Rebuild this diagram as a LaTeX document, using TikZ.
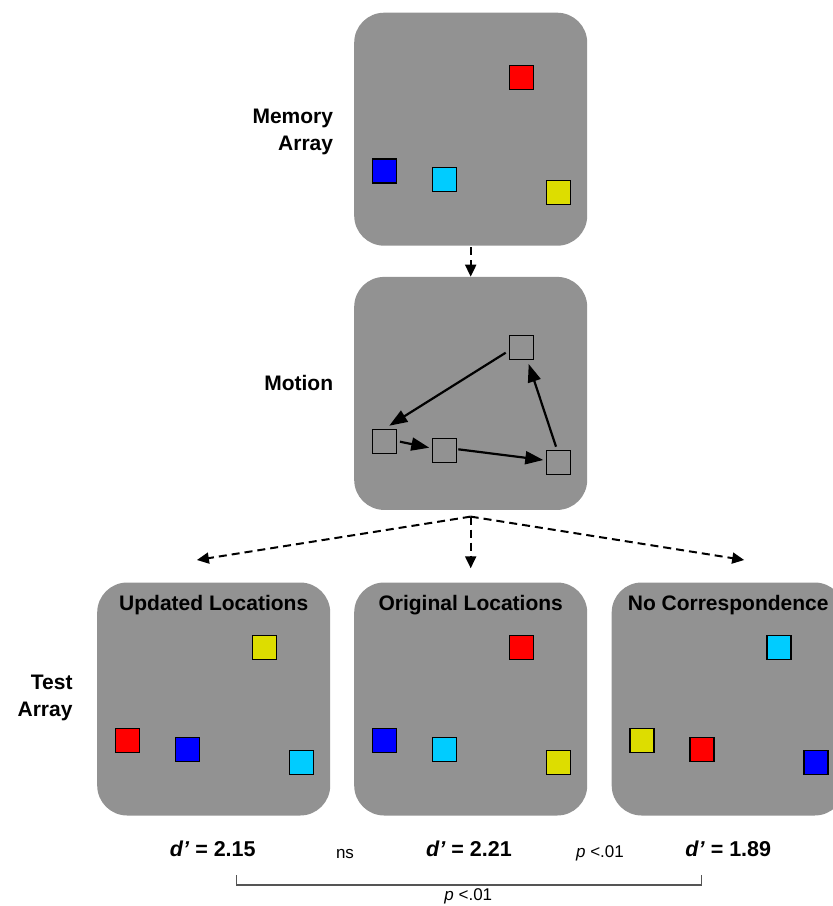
\documentclass[tikz,border=0pt]{standalone}
\usepackage{fontspec}
\setmainfont{Liberation Sans}
\usetikzlibrary{arrows.meta,calc}

\definecolor{panelgray}{RGB}{146,146,146}
\definecolor{sqred}{RGB}{255,0,0}
\definecolor{sqblue}{RGB}{0,0,255}
\definecolor{sqcyan}{RGB}{0,204,255}
\definecolor{sqyellow}{RGB}{221,221,0}
\definecolor{brackgray}{RGB}{85,85,85}

% four coloured squares at the standard display positions of a panel
\newcommand\fourItems[5]{%
  \node[item=#2] (#1-a) at ($(#1.north west)+(167.5,65)$) {};
  \node[item=#3] (#1-b) at ($(#1.north west)+(30.5,158.5)$) {};
  \node[item=#4] (#1-c) at ($(#1.north west)+(90.5,167)$) {};
  \node[item=#5] (#1-d) at ($(#1.north west)+(204.5,180)$) {};
}
\newcommand\dval[1]{\textit{d\char"27} = #1}

\begin{document}
\begin{tikzpicture}[x=1pt,y=-1pt,
  panel/.style={rectangle,rounded corners=30pt,fill=panelgray,minimum width=233pt,
    minimum height=233pt,inner sep=0pt,anchor=north west},
  item/.style={rectangle,draw=black,line width=1.3pt,minimum size=24pt,inner sep=0pt,fill=#1},
  rowlabel/.style={font=\fontsize{21}{27}\selectfont\bfseries,align=right,anchor=base east,inner sep=0pt},
  title/.style={font=\fontsize{21}{25}\selectfont\bfseries,anchor=base,inner sep=0pt},
  score/.style={font=\fontsize{21.5}{25}\selectfont\bfseries,anchor=base,inner sep=0pt},
  stat/.style={font=\fontsize{17}{20}\selectfont,anchor=base,inner sep=0pt},
  flow/.style={line width=2pt,dash pattern=on 8pt off 5pt,-{Triangle[length=12pt,width=11pt]}},
  move/.style={line width=2.2pt,-{Triangle[length=18pt,width=13pt]}},
  bracket/.style={draw=brackgray,line width=1.2pt}
]
\useasboundingbox (0,0) rectangle (833,906);
\clip (0,0) rectangle (833,906);

% panels
\node[panel] (mem) at (354,12.5) {};
\node[panel] (mot) at (354,276.7) {};
\node[panel] (upd) at (97,582.3) {};
\node[panel] (org) at (354,582.3) {};
\node[panel] (noc) at (611.5,582.3) {};

% coloured items
\fourItems{mem}{sqred}{sqblue}{sqcyan}{sqyellow}
\fourItems{upd}{sqyellow}{sqred}{sqblue}{sqcyan}
\fourItems{org}{sqred}{sqblue}{sqcyan}{sqyellow}
\fourItems{noc}{sqcyan}{sqyellow}{sqred}{sqblue}

% empty placeholders and the motion path
\node[item=panelgray] (m1) at ($(mot.north west)+(167.5,71.1)$) {};
\node[item=panelgray] (m2) at ($(mot.north west)+(30.5,165.1)$) {};
\node[item=panelgray] (m3) at ($(mot.north west)+(90.2,173.5)$) {};
\node[item=panelgray] (m4) at ($(mot.north west)+(204.2,185.8)$) {};
\draw[move] ($(m1)+(-15.8,4.9)$) -- ($(m2)+(4.8,-16.1)$);
\draw[move] ($(m2)+(15.5,-0.1)$) -- ($(m3)+(-14.9,-2.5)$);
\draw[move] ($(m3)+(14.1,-0.9)$) -- ($(m4)+(-14.9,-2.5)$);
\draw[move] ($(m4)+(-2.2,-15.8)$) -- ($(m1)+(7.2,16.2)$);

% row labels (anchored at the baseline of the last line)
\node[rowlabel] (lmem) at (333.3,150.7) {Memory\\Array};
\node[rowlabel] (lmot) at (333.3,390.7) {Motion};
\node[rowlabel] (ltest) at (72.7,716.7) {Test\\Array};

% test titles
\node[title] (tupd) at ($(upd.north)+(0,28.4)$) {Updated Locations};
\node[title] (torg) at ($(org.north)+(0,28.4)$) {Original Locations};
\node[title] (tnoc) at ($(noc.north)+(0,28.4)$) {No Correspondence};

% sequence arrows
\draw[flow] ($(mem.south)+(0,1.5)$) -- (mot.north);
\coordinate (fan) at ($(mot.south)+(0,6.5)$);
\draw[flow] (fan) -- ($(upd.north)+(-16.8,-22.3)$);
\draw[flow] (fan) -- ($(org.north)+(0,-14)$);
\draw[flow] (fan) -- ($(noc.north)+(16,-22.3)$);

% sensitivity scores and comparisons
\node[score] (d1) at (212.8,856.7) {\dval{2.15}};
\node[score] (d2) at (469,856.7) {\dval{2.21}};
\node[score] (d3) at (728.3,856.7) {\dval{1.89}};
\node[stat] (s12) at (345,858) {ns};
\node[stat] (s23) at (600,857) {\textit{p} <.01};
\coordinate (bl) at (236.7,875);
\coordinate (br) at (701.7,875);
\draw[bracket] (bl) -- ++(0,10) -| (br);
\node[stat] (s13) at (468.3,900.5) {\textit{p} <.01};
\end{tikzpicture}
\end{document}
